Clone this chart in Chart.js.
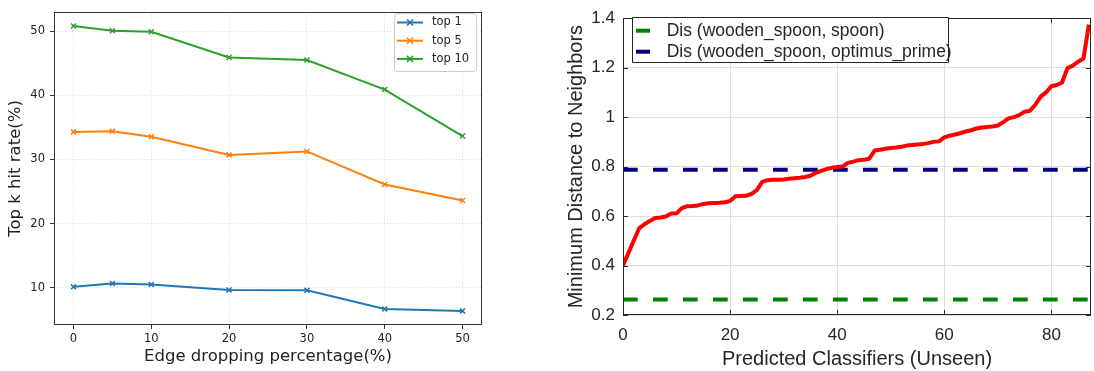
<!DOCTYPE html>
<html>
<head>
<meta charset="utf-8">
<script src="https://cdn.jsdelivr.net/npm/chart.js@4.4.1/dist/chart.umd.min.js"></script>
<style>
  html, body { margin: 0; padding: 0; background: #fff; }
  body { width: 1094px; height: 371px; position: relative; overflow: hidden; }
  #leftChart { position: absolute; left: 0; top: 0; }
  #rightChart { position: absolute; left: 560px; top: 0; }
</style>
</head>
<body>
<canvas id="leftChart" width="500" height="371"></canvas>
<canvas id="rightChart" width="534" height="371"></canvas>
<script>
// -- left panel: hit rate vs edge dropping --
const dropRates = [0, 5, 10, 20, 30, 40, 50];
const top1Hit = [10.15, 10.65, 10.5, 9.65, 9.6, 6.7, 6.4];
const top5Hit = [34.3, 34.4, 33.55, 30.7, 31.25, 26.1, 23.6];
const top10Hit = [50.8, 50.05, 49.9, 45.9, 45.5, 40.9, 33.65];
const leftXTicks = [0, 10, 20, 30, 40, 50];
const leftYTicks = [10, 20, 30, 40, 50];

// -- right panel: min distance of predicted classifiers --
const minDistances = [
  0.40, 0.45, 0.50, 0.55, 0.567, 0.58, 0.592, 0.594, 0.598, 0.61,
  0.611, 0.632, 0.64, 0.641, 0.643, 0.649, 0.652, 0.653, 0.654, 0.656,
  0.661, 0.68, 0.681, 0.682, 0.69, 0.705, 0.738, 0.745, 0.747, 0.747,
  0.748, 0.751, 0.753, 0.755, 0.758, 0.763, 0.775, 0.783, 0.79, 0.795,
  0.798, 0.80, 0.815, 0.82, 0.826, 0.828, 0.832, 0.865, 0.868, 0.872,
  0.875, 0.877, 0.88, 0.885, 0.887, 0.889, 0.891, 0.895, 0.90, 0.902,
  0.918, 0.925, 0.93, 0.935, 0.942, 0.947, 0.954, 0.958, 0.96, 0.962,
  0.966, 0.98, 0.995, 1.0, 1.008, 1.022, 1.026, 1.05, 1.083, 1.10,
  1.125, 1.13, 1.14, 1.198, 1.208, 1.224, 1.237, 1.374
];
const disSpoon = 0.263;
const disOptimus = 0.787;
const rightXTicks = [0, 20, 40, 60, 80];
const rightYTicks = [0.2, 0.4, 0.6, 0.8, 1.0, 1.2, 1.4];

const rightXMax = 87.4;

// box around the plot area
const framePlugin = {
    id: 'frame',
    afterDatasetsDraw(chart, args, opts) {
        const { ctx, chartArea: a } = chart;
        ctx.save();
        ctx.strokeStyle = opts.color;
        ctx.lineWidth = opts.width;
        const l = Math.round(a.left) + 0.5, t = Math.round(a.top) + 0.5;
        const r = Math.round(a.right) - 0.5, b = Math.round(a.bottom) - 0.5;
        ctx.strokeRect(l, t, r - l, b - t);
        ctx.restore();
    }
};

// matlab style ticks pointing inward, on all four sides
const innerTicksPlugin = {
    id: 'innerTicks',
    afterDatasetsDraw(chart, args, opts) {
        const { ctx, chartArea: a, scales } = chart;
        const len = opts.length;
        ctx.save();
        ctx.strokeStyle = opts.color;
        ctx.lineWidth = 1;
        ctx.beginPath();
        scales.x.ticks.forEach(t => {
            const px = Math.round(scales.x.getPixelForValue(t.value)) + 0.5;
            ctx.moveTo(px, a.bottom); ctx.lineTo(px, a.bottom - len);
            ctx.moveTo(px, a.top); ctx.lineTo(px, a.top + len);
        });
        scales.y.ticks.forEach(t => {
            const py = Math.round(scales.y.getPixelForValue(t.value)) + 0.5;
            ctx.moveTo(a.left, py); ctx.lineTo(a.left + len, py);
            ctx.moveTo(a.right, py); ctx.lineTo(a.right - len, py);
        });
        ctx.stroke();
        ctx.restore();
    }
};

// legend drawn by hand so it can sit where the original one is
const boxLegendPlugin = {
    id: 'boxLegend',
    afterDraw(chart, args, o) {
        const ctx = chart.ctx;
        const items = chart.data.datasets.filter(d => d.label);
        ctx.save();
        ctx.beginPath();
        if (o.radius) ctx.roundRect(o.left + 0.5, o.top + 0.5, o.width, o.height, o.radius);
        else ctx.rect(o.left + 0.5, o.top + 0.5, o.width, o.height);
        ctx.fillStyle = o.fill;
        ctx.fill();
        ctx.strokeStyle = o.edge;
        ctx.lineWidth = 1;
        ctx.stroke();

        ctx.font = o.font;
        ctx.textBaseline = 'middle';
        ctx.textAlign = 'left';
        items.forEach((d, i) => {
            const y = o.top + o.firstRow + i * o.rowStep;
            ctx.strokeStyle = d.borderColor;
            ctx.lineWidth = o.lineWidth;
            ctx.beginPath();
            ctx.moveTo(o.left + o.sampleFrom, y);
            ctx.lineTo(o.left + o.sampleTo, y);
            ctx.stroke();
            if (o.marker) {
                const cx = o.left + (o.sampleFrom + o.sampleTo) / 2, s = 3;
                ctx.lineWidth = 1.5;
                ctx.beginPath();
                ctx.moveTo(cx - s, y - s); ctx.lineTo(cx + s, y + s);
                ctx.moveTo(cx - s, y + s); ctx.lineTo(cx + s, y - s);
                ctx.stroke();
            }
            ctx.fillStyle = o.textColor;
            ctx.fillText(d.label, o.left + o.textAt, y);
        });
        ctx.restore();
    }
};

const toPoints = (xs, ys) => ys.map((y, i) => ({ x: xs[i], y: y }));

// 1. LEFT
const mplFont = "'DejaVu Sans', sans-serif";
const lineSet = (label, color, values) => ({
    label: label,
    data: toPoints(dropRates, values),
    borderColor: color,
    backgroundColor: color,
    borderWidth: 2,
    pointStyle: 'crossRot',
    pointRadius: 3.5,
    pointBorderWidth: 1.5,
    tension: 0
});

new Chart(document.getElementById('leftChart'), {
    type: 'line',
    data: {
        datasets: [
            lineSet('top 1', '#1f77b4', top1Hit),
            lineSet('top 5', '#ff7f0e', top5Hit),
            lineSet('top 10', '#2ca02c', top10Hit)
        ]
    },
    options: {
        responsive: false,
        animation: false,
        layout: { padding: { top: 7, right: 18, bottom: 0, left: 0 } },
        plugins: {
            legend: { display: false },
            tooltip: { enabled: false },
            frame: { color: '#333', width: 1 },
            boxLegend: {
                left: 394, top: 13, width: 82, height: 58, radius: 3,
                fill: 'rgba(255,255,255,0.8)', edge: '#cccccc',
                firstRow: 9.5, rowStep: 18.2, sampleFrom: 3, sampleTo: 29, textAt: 38,
                lineWidth: 2, marker: true,
                font: "11.5px " + mplFont, textColor: '#222'
            }
        },
        scales: {
            x: {
                type: 'linear',
                min: -2.5,
                max: 52.5,
                afterBuildTicks: s => { s.ticks = leftXTicks.map(v => ({ value: v })); },
                afterFit: s => { s.height = 46; },
                grid: { color: '#d6d6d6', lineWidth: 0.8, tickLength: 4, tickColor: '#333', tickWidth: 1 },
                border: { display: false, dash: [1, 2] },
                ticks: { autoSkip: false, maxRotation: 0, padding: 3, color: '#222', font: { family: mplFont, size: 11.5 } },
                title: {
                    display: true, text: 'Edge dropping percentage(%)', color: '#222',
                    font: { family: mplFont, size: 16.5, lineHeight: 1 }, padding: { top: 0, bottom: 6 }
                }
            },
            y: {
                min: 4.2,
                max: 53,
                afterBuildTicks: s => { s.ticks = leftYTicks.map(v => ({ value: v })); },
                afterFit: s => { s.width = 54; },
                grid: { color: '#d6d6d6', lineWidth: 0.8, tickLength: 4, tickColor: '#333', tickWidth: 1 },
                border: { display: false, dash: [1, 2] },
                ticks: { autoSkip: false, padding: 5, color: '#222', font: { family: mplFont, size: 11.5 } },
                title: {
                    display: true, text: 'Top k hit rate(%)', color: '#222',
                    font: { family: mplFont, size: 16.5, lineHeight: 1 }, padding: { top: 7, bottom: 0 }
                }
            }
        }
    },
    plugins: [framePlugin, boxLegendPlugin]
});

// 2. RIGHT
const mlFont = "'Liberation Sans', Arial, sans-serif";
const levelLine = (label, color, level) => ({
    label: label,
    data: [{ x: 0, y: level }, { x: rightXMax, y: level }],
    borderColor: color,
    borderWidth: 4,
    borderDash: [14.7, 15.3],
    pointRadius: 0,
    tension: 0
});

new Chart(document.getElementById('rightChart'), {
    type: 'line',
    data: {
        datasets: [
            {
                data: minDistances.map((d, i) => ({ x: i, y: d })),
                borderColor: '#ff0000',
                borderWidth: 4,
                borderJoinStyle: 'round',
                pointRadius: 0,
                tension: 0
            },
            levelLine('Dis (wooden_spoon, spoon)', '#008000', disSpoon),
            levelLine('Dis (wooden_spoon, optimus_prime)', '#000080', disOptimus)
        ]
    },
    options: {
        responsive: false,
        animation: false,
        layout: { padding: { top: 8, right: 3, bottom: 0, left: 0 } },
        plugins: {
            legend: { display: false },
            tooltip: { enabled: false },
            frame: { color: '#262626', width: 1 },
            innerTicks: { color: '#262626', length: 5 },
            boxLegend: {
                left: 72, top: 17, width: 316, height: 45, radius: 0,
                fill: '#ffffff', edge: '#262626',
                firstRow: 13.7, rowStep: 21, sampleFrom: 4, sampleTo: 18, textAt: 34.7,
                lineWidth: 4, marker: false,
                font: "17.5px " + mlFont, textColor: '#262626'
            }
        },
        scales: {
            x: {
                type: 'linear',
                min: 0,
                max: rightXMax,
                afterBuildTicks: s => { s.ticks = rightXTicks.map(v => ({ value: v })); },
                afterFit: s => { s.height = 56; },
                grid: { color: '#dedede', lineWidth: 1, drawTicks: false },
                border: { display: false },
                ticks: { autoSkip: false, maxRotation: 0, padding: 10, color: '#262626', font: { family: mlFont, size: 17 } },
                title: {
                    display: true, text: 'Predicted Classifiers (Unseen)', color: '#262626',
                    font: { family: mlFont, size: 20, lineHeight: 1 }, padding: { top: 0, bottom: 2 }
                }
            },
            y: {
                min: 0.2,
                max: 1.4,
                afterBuildTicks: s => { s.ticks = rightYTicks.map(v => ({ value: v })); },
                afterFit: s => { s.width = 63; },
                grid: { color: '#dedede', lineWidth: 1, drawTicks: false },
                border: { display: false },
                ticks: {
                    autoSkip: false, padding: 8, color: '#262626', font: { family: mlFont, size: 17 },
                    callback: v => String(+v.toFixed(1))
                },
                title: {
                    display: true, text: 'Minimum Distance to Neighbors', color: '#262626',
                    font: { family: mlFont, size: 20, lineHeight: 1 }, padding: { top: 6, bottom: 0 }
                }
            }
        }
    },
    plugins: [framePlugin, innerTicksPlugin, boxLegendPlugin]
});
</script>
</body>
</html>
